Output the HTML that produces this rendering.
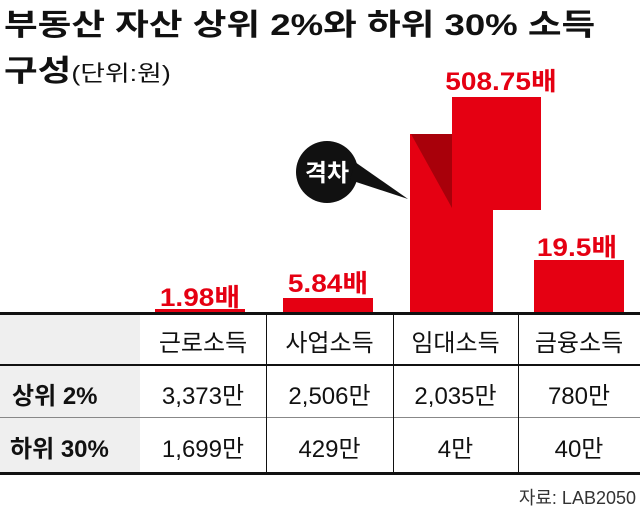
<!DOCTYPE html>
<html><head><meta charset="utf-8"><style>
body{margin:0;width:640px;height:513px;background:#fff;position:relative;overflow:hidden;font-family:"Liberation Sans","Noto Sans CJK KR",sans-serif;color:#111}
.t{position:absolute;left:4px;font-weight:bold;font-size:30px;white-space:nowrap;transform-origin:0 0;transform:scaleX(1.22)}
.lab{position:absolute;color:#e50012;font-weight:bold;font-size:25px;transform:translateX(-50%) scaleX(1.12);white-space:nowrap}
.c{position:absolute;font-size:24px;text-align:center;white-space:nowrap}
.l{position:absolute;background:#111}
</style></head><body>
<div class="t" style="top:0px">부동산 자산 상위 2%와 하위 30% 소득</div>
<div class="t" style="top:46px">구성<span style="font-weight:normal;font-size:22px">(단위:원)</span></div>
<svg style="position:absolute;left:0;top:0" width="640" height="513">
<rect x="0" y="313" width="140" height="160" fill="#efefef"/>
<rect x="155" y="309" width="90" height="4" fill="#e50012"/>
<rect x="283" y="298" width="90" height="15" fill="#e50012"/>
<polygon points="410,134 452,134 452,97 541,97 541,210 493,210 493,313 410,313" fill="#e50012"/>
<polygon points="411,134 452,134 452,208" fill="#a8000a"/>
<rect x="534" y="260" width="90" height="53" fill="#e50012"/>
<circle cx="327" cy="172" r="31" fill="#111"/>
<polygon points="350,180 408,199 355,162" fill="#111"/>
<text x="327" y="181" fill="#fff" font-size="24" font-weight="bold" text-anchor="middle" font-family="Liberation Sans, Noto Sans CJK KR, sans-serif">격차</text>
</svg>
<div class="lab" style="left:200px;top:278px">1.98배</div>
<div class="lab" style="left:328px;top:264px">5.84배</div>
<div class="lab" style="left:501px;top:62px">508.75배</div>
<div class="lab" style="left:577px;top:228px">19.5배</div>
<div class="l" style="left:0;top:312px;width:640px;height:3px"></div>
<div class="l" style="left:0;top:364px;width:640px;height:2px"></div>
<div class="l" style="left:0;top:417px;width:640px;height:1px;background:#888"></div>
<div class="l" style="left:0;top:472px;width:640px;height:3px"></div>
<div class="l" style="left:266px;top:313px;width:1px;height:160px"></div>
<div class="l" style="left:393px;top:313px;width:1px;height:160px"></div>
<div class="l" style="left:518px;top:313px;width:1px;height:160px"></div>
<div class="c" style="left:140px;width:126px;top:323px">근로소득</div>
<div class="c" style="left:266px;width:127px;top:323px">사업소득</div>
<div class="c" style="left:393px;width:125px;top:323px">임대소득</div>
<div class="c" style="left:518px;width:122px;top:323px">금융소득</div>
<div class="c" style="left:12px;top:376px;font-weight:bold">상위 2%</div>
<div class="c" style="left:140px;width:126px;top:376px">3,373만</div>
<div class="c" style="left:266px;width:127px;top:376px">2,506만</div>
<div class="c" style="left:393px;width:125px;top:376px">2,035만</div>
<div class="c" style="left:518px;width:122px;top:376px">780만</div>
<div class="c" style="left:10px;top:429px;font-weight:bold">하위 30%</div>
<div class="c" style="left:140px;width:126px;top:429px">1,699만</div>
<div class="c" style="left:266px;width:127px;top:429px">429만</div>
<div class="c" style="left:393px;width:125px;top:429px">4만</div>
<div class="c" style="left:518px;width:122px;top:429px">40만</div>
<div class="c" style="right:4px;top:484px;font-size:18px;color:#333">자료: LAB2050</div>
</body></html>
